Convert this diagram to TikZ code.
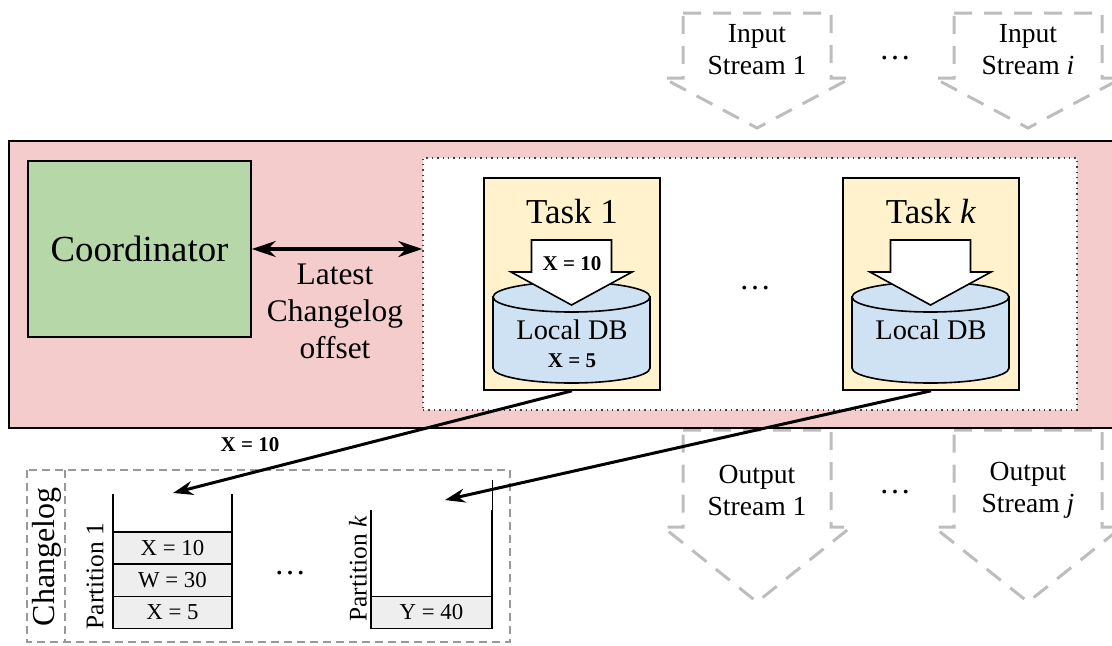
\documentclass[tikz,border=0pt]{standalone}
\usepackage{fontspec}
\setmainfont{Liberation Serif}
\usetikzlibrary{arrows.meta}
\definecolor{pinkbg}{HTML}{F4CCCC}
\definecolor{coordgreen}{HTML}{B6D7A8}
\definecolor{taskyellow}{HTML}{FFF2CC}
\definecolor{dbblue}{HTML}{CFE2F3}
\definecolor{cellgray}{HTML}{EEEEEE}
\definecolor{streamgray}{HTML}{BDBDBD}
\definecolor{boxgray}{HTML}{999999}
\tikzset{
  box/.style={draw, line width=0.8pt, inner sep=0pt},
  stream/.style={draw=streamgray, line width=1.5pt, dash pattern=on 9pt off 6pt},
  streamtext/.style={align=center, font=\fontsize{13.8}{16}\selectfont},
  cell/.style={draw, fill=cellgray, line width=0.6pt, minimum width=59.5pt, minimum height=16pt, inner sep=0pt, font=\fontsize{11.4}{13}\selectfont},
  flow/.style={line width=1.5pt, -{Stealth[length=10pt,width=7pt]}},
  dots/.style={font=\fontsize{16}{18}\selectfont},
  bold/.style={font=\fontsize{10.5}{12}\selectfont\bfseries},
}
\begin{document}
\begin{tikzpicture}[x=0.5pt, y=-0.5pt]
  \useasboundingbox (0,0) rectangle (1112,645);
  \clip (0,0) rectangle (1112,645);
  % input streams
  \foreach \cx/\n/\id in {757/1/1, 1028/{\textit{i}}/i}{
    \draw[stream] ({\cx-74},13) -- ({\cx+74},13) -- ({\cx+74},78) -- ({\cx+94},78) -- (\cx,128) -- ({\cx-94},78) -- ({\cx-74},78) -- cycle;
    \node[streamtext] (in\id) at (\cx,50) {Input\\Stream \n};
  }
  \node[dots] (indots) at (895,58) {\ldots};
  % output streams
  \foreach \cx/\n/\id in {757/1/1, 1028/{\textit{j}}/j}{
    \draw[stream] ({\cx-74},430) -- ({\cx+74},430) -- ({\cx+74},527) -- ({\cx+94},527) -- (\cx,602) -- ({\cx-94},527) -- ({\cx-74},527) -- cycle;
    \node[streamtext] (out\id) at (\cx,490) {Output\\Stream \n};
  }
  \node[dots] (outdots) at (895,492) {\ldots};
  % processor
  \node[box, fill=pinkbg, minimum width=558pt, minimum height=143.5pt] (proc) at (567,284.5) {};
  \node[box, fill=coordgreen, minimum width=111.5pt, minimum height=88pt, font=\fontsize{18.4}{20}\selectfont] (coord) at (139.5,249) {Coordinator};
  \node[draw=darkgray, dotted, line width=0.7pt, fill=white, minimum width=327pt, minimum height=126pt] (work) at (750,284) {};
  \draw[line width=1.6pt, {Stealth[length=12pt,width=8pt]}-{Stealth[length=12pt,width=8pt]}] (coord.east) -- (coord.east -| work.west);
  \node[align=center, font=\fontsize{15.7}{18.5}\selectfont] (offset) at (335,311) {Latest\\Changelog\\offset};
  % tasks
  \node[box, fill=taskyellow, minimum width=88pt, minimum height=106pt] (task1) at (572,284) {};
  \node[box, fill=taskyellow, minimum width=88pt, minimum height=106pt] (taskk) at (931,284) {};
  \node[font=\fontsize{17.5}{20}\selectfont] (task1lab) at (572,212) {Task 1};
  \node[font=\fontsize{17.5}{20}\selectfont] (tasklab) at (931,212) {Task \textit{k}};
  \foreach \cx in {571.5, 930.5}{
    \draw[fill=dbblue, line width=0.8pt] ({\cx-78.5},297) -- ({\cx-78.5},368) arc[start angle=180, end angle=360, x radius=39.25pt, y radius=7.5pt] -- ({\cx+78.5},297) -- cycle;
    \draw[fill=dbblue, line width=0.8pt] (\cx,297) ellipse[x radius=39.25pt, y radius=7.5pt];
    \draw[fill=white, line width=0.8pt] ({\cx-40},240) -- ({\cx+40},240) -- ({\cx+40},272) -- ({\cx+60.5},272) -- (\cx,305) -- ({\cx-60.5},272) -- ({\cx-40},272) -- cycle;
  }
  \node[bold] (put1) at (572,264) {X = 10};
  \node[font=\fontsize{14.2}{16}\selectfont] (db1) at (572,330) {Local DB};
  \node[bold] (val1) at (572,361) {X = 5};
  \node[font=\fontsize{14.2}{16}\selectfont] (dbk) at (931,330) {Local DB};
  \node[dots] (taskdots) at (755,288) {\ldots};
  % changelog
  \draw[boxgray, dash pattern=on 4pt off 2.5pt, line width=0.6pt] (27,470) rectangle (510,642);
  \draw[boxgray, dash pattern=on 4pt off 2.5pt, line width=0.6pt] (65,470) -- (65,642);
  \node[rotate=90, font=\fontsize{16}{18}\selectfont] (chlab) at (47,557) {Changelog};
  \draw[line width=0.8pt] (113,494) -- (113,628) -- (232,628) -- (232,494);
  \node[cell] (c1) at (172.5,548) {X = 10};
  \node[cell] (c2) at (172.5,580.5) {W = 30};
  \node[cell] (c3) at (172.5,612.5) {X = 5};
  \node[rotate=90, font=\fontsize{12.7}{14}\selectfont] (p1lab) at (95,576) {Partition 1};
  \draw[line width=0.8pt] (371,510) -- (371,628) -- (492,628) -- (492,510);
  \draw[line width=0.3pt] (492,480) -- (492,510);
  \node[cell, minimum width=60.5pt] (ck) at (431.5,612.5) {Y = 40};
  \node[rotate=90, font=\fontsize{12.7}{14}\selectfont] (pklab) at (358,569) {Partition \textit{k}};
  \node[dots] (chdots) at (290,573) {\ldots};
  % writes to changelog
  \coordinate (slot1) at (173,493);
  \coordinate (slotk) at (445,500);
  \draw[flow] (task1.south) -- (slot1);
  \draw[flow] (taskk.south) -- (slotk);
  \node[bold] (put1log) at (250,445) {X = 10};
\end{tikzpicture}
\end{document}
